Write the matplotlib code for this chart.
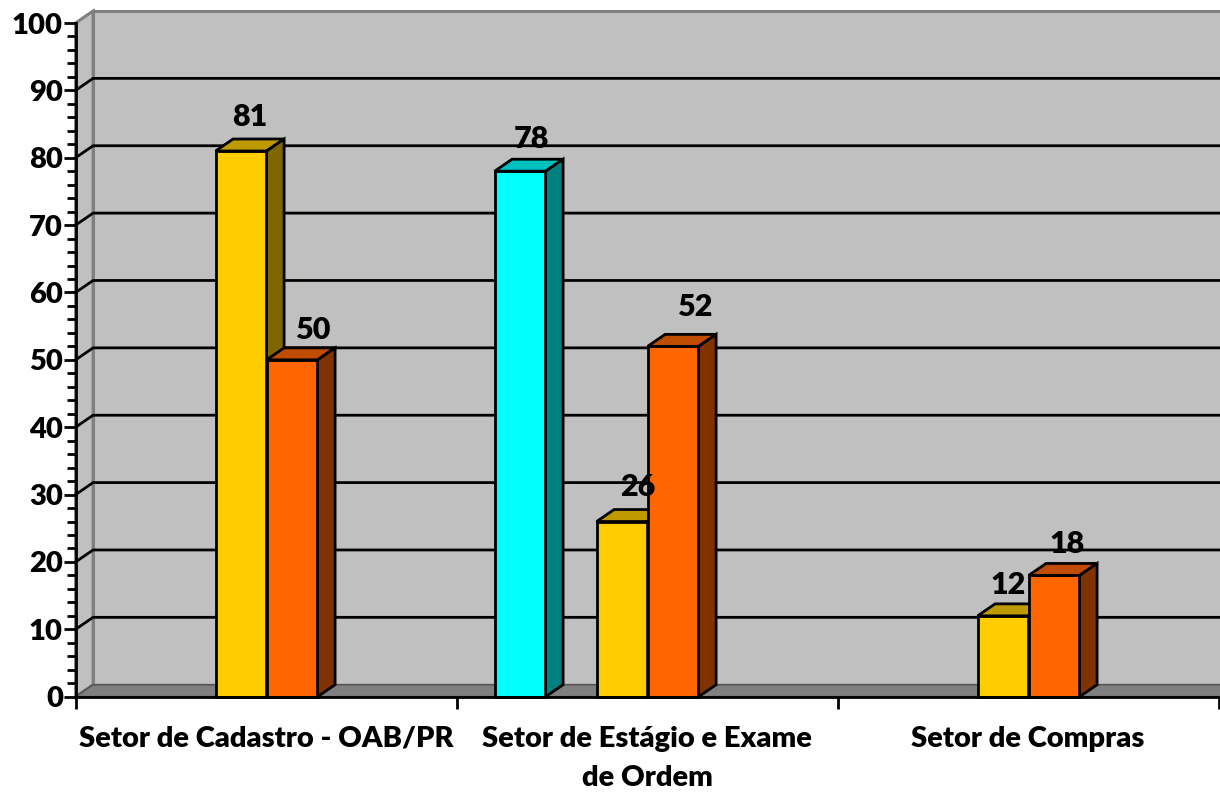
import matplotlib
matplotlib.use("Agg")
import matplotlib.pyplot as plt
from matplotlib.patches import Polygon
from matplotlib.transforms import offset_copy

categories = ["Setor de Cadastro - OAB/PR", "Setor de Estágio e Exame\nde Ordem", "Setor de Compras"]
cyan_values = [None, 78, None]
yellow_values = [81, 26, 12]
orange_values = [50, 52, 18]

plt.rcParams['font.family'] = ['Lato', 'DejaVu Sans']
W, H = 1220, 795
fig = plt.figure(figsize=(W/100, H/100), dpi=100, facecolor='white')
L, R, T, B = 75.6, 1218.6, 23, 696.7
ax = fig.add_axes([L/W, 1-B/H, (R-L)/W, (B-T)/H])
ax.set_xlim(0, 3); ax.set_ylim(0, 100)
ax.patch.set_visible(False)

px = 381.0
py = (B-T)/100
dx = 17.5/px
dy = 12/py
bw = 51/px
slot_start = 38/px
LW = 2.0

def poly(pts, fc, ec='black', lw=LW, z=3):
    ax.add_patch(Polygon(pts, closed=True, facecolor=fc, edgecolor=ec, linewidth=lw,
                         zorder=z, clip_on=False, joinstyle='miter'))

GREY = '#c0c0c0'; EDGE = '#808080'
poly([(dx, dy), (3+dx+0.01, dy), (3+dx+0.01, 100+dy), (dx, 100+dy)], GREY, EDGE, 2.2, 1)
poly([(0, 0), (dx, dy), (dx, 100+dy), (0, 100)], GREY, EDGE, 2.2, 1)
poly([(0, 0), (3+0.01, 0), (3+dx+0.01, dy), (dx, dy)], '#808080', '#555555', 1.2, 1.2)

for v in range(10, 100, 10):
    ax.plot([0, dx, 3+dx], [v, v+dy, v+dy], color='black', lw=LW, zorder=2,
            clip_on=False, solid_joinstyle='miter')

def bar3d(x, v, fc, top, side, z):
    ax.bar(x, v, width=bw, align='edge', color=fc, edgecolor='black', linewidth=LW, zorder=z, clip_on=False)
    poly([(x, v), (x+bw, v), (x+bw+dx, v+dy), (x+dx, v+dy)], top, z=z)
    poly([(x+bw, 0), (x+bw+dx, dy), (x+bw+dx, v+dy), (x+bw, v)], side, z=z)

series = [
    (cyan_values, 0, '#00ffff', '#00bfbf', '#008080'),
    (yellow_values, 2, '#ffcc00', '#bf9900', '#806600'),
    (orange_values, 3, '#ff6600', '#bf4c00', '#803300'),
]
# label nudges in pixels from the front-top centre of each bar
nudges = {(0, 2): (9, 34), (0, 3): (22, 30), (1, 0): (11, 32), (1, 2): (16, 35),
          (1, 3): (23, 39), (2, 2): (5, 31), (2, 3): (13, 31)}
for vals, slot, fc, top, side in series:
    for i, v in enumerate(vals):
        if v is None:
            continue
        x = i + slot_start + slot*bw
        bar3d(x, v, fc, top, side, 3 + slot*0.1)
        nx, ny = nudges[(i, slot)]
        tr = offset_copy(ax.transData, fig=fig, x=nx, y=ny, units='dots')
        ax.text(x+bw/2, v, str(v), transform=tr, ha='center', va='center', fontsize=22,
                fontweight='heavy', color='black', zorder=10, clip_on=False)

for s in ['top', 'right']:
    ax.spines[s].set_visible(False)
for s in ['left', 'bottom']:
    ax.spines[s].set_linewidth(LW); ax.spines[s].set_zorder(8)
ax.set_yticks(range(0, 101, 10))
ax.set_yticks(range(0, 101, 2), minor=True)
ax.tick_params(axis='y', which='major', length=8.6, width=LW, labelsize=21, pad=0.5)
ax.tick_params(axis='y', which='minor', length=6.5, width=LW)
for t in ax.get_yticklabels():
    t.set_fontweight('heavy')
ax.set_xticks([0, 1, 2, 3])
ax.set_xticklabels([])
ax.tick_params(axis='x', which='major', length=8.6, width=LW)
ax.set_xticks([0.5, 1.5, 2.5], categories, minor=True)
ax.tick_params(axis='x', which='minor', length=0, labelsize=21, pad=21)
for t in ax.get_xticklabels(minor=True):
    t.set_fontweight('heavy'); t.set_linespacing(1.62); t.set_va('top')

fig.savefig('out.png', dpi=100)
